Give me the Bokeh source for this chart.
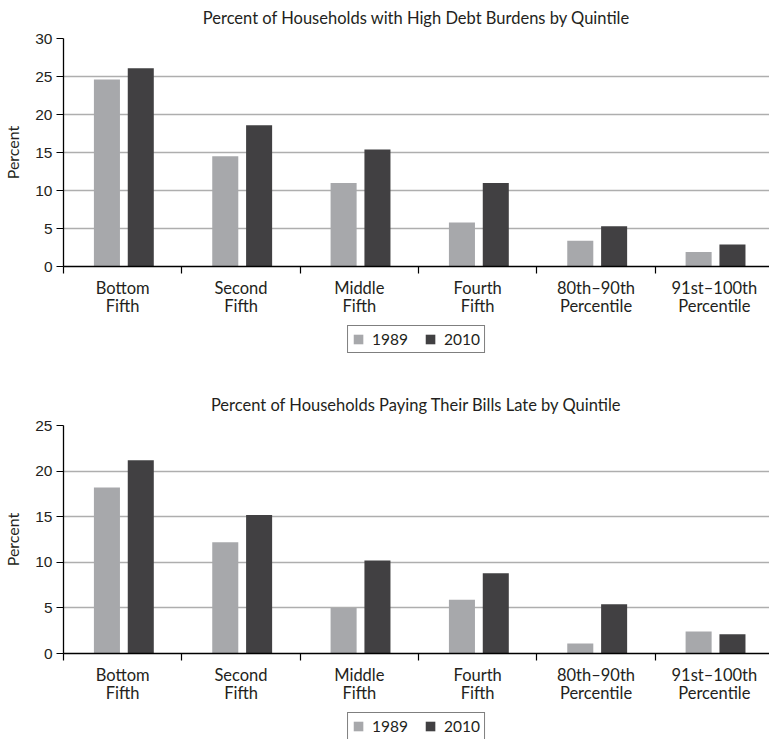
from bokeh.plotting import figure
from bokeh.models import (Range1d, FixedTicker, Legend, LegendItem, ColumnDataSource,
                          LinearAxis, Label)
from bokeh.layouts import column
from bokeh.embed import file_html
from bokeh.resources import INLINE

# Income groups (two-line tick labels)
categories = ["Bottom\nFifth", "Second\nFifth", "Middle\nFifth", "Fourth\nFifth",
              "80th–90th\nPercentile", "91st–100th\nPercentile"]
years = ["1989", "2010"]

# Percent of households with high debt burdens
debt_1989 = [24.6, 14.5, 11.0, 5.8, 3.4, 1.9]
debt_2010 = [26.1, 18.6, 15.4, 11.0, 5.3, 2.9]

# Percent of households paying their bills late
late_1989 = [18.2, 12.2, 5.0, 5.9, 1.1, 2.4]
late_2010 = [21.2, 15.2, 10.2, 8.8, 5.4, 2.1]

C_1989 = "#a7a8ab"
C_2010 = "#414042"
TEXT = "#231f20"
LABEL_FONT = "Lato"
NUM_FONT = "Liberation Sans"


def blank_strip(height):
    s = figure(width=769, height=height,
               min_border_left=62, min_border_right=0,
               min_border_top=0, min_border_bottom=0,
               x_range=Range1d(0, 1), y_range=Range1d(0, 1),
               output_backend="svg", toolbar_location=None,
               x_axis_type=None, y_axis_type=None)
    s.outline_line_color = None
    s.xgrid.visible = False
    s.ygrid.visible = False
    s.background_fill_color = "white"
    s.border_fill_color = "white"
    return s


def make_title_strip(text):
    s = blank_strip(28)
    s.add_layout(Label(x=0.5, y=11, x_units="data", y_units="screen", text=text,
                       text_align="center", text_baseline="middle",
                       text_font=LABEL_FONT, text_font_size="16.5px",
                       text_color=TEXT))
    return s


def make_panel(v89, v10, ymax):
    n = len(categories)
    p = figure(width=769, height=292,
               min_border_left=62, min_border_right=0,
               min_border_top=10, min_border_bottom=54,
               x_range=Range1d(0, 5.966), y_range=Range1d(0, ymax),
               output_backend="svg", toolbar_location=None,
               x_axis_type=None)
    p.outline_line_color = None
    p.background_fill_color = "white"
    p.border_fill_color = "white"

    centers = [i + 0.5 for i in range(n)]
    src = ColumnDataSource(dict(
        x89=[c - 0.133 for c in centers],
        x10=[c + 0.153 for c in centers],
        v89=v89, v10=v10,
    ))

    p.xgrid.visible = False
    p.ygrid.grid_line_color = "#aeaeae"
    p.ygrid.grid_line_width = 1.3
    p.ygrid.ticker = FixedTicker(ticks=list(range(0, ymax + 1, 5)))

    p.vbar(x="x89", top="v89", width=0.22, source=src,
           fill_color=C_1989, line_color=None)
    p.vbar(x="x10", top="v10", width=0.22, source=src,
           fill_color=C_2010, line_color=None)

    # y axis
    ya = p.yaxis[0]
    ya.ticker = FixedTicker(ticks=list(range(0, ymax + 1, 5)))
    ya.axis_label = "Percent"
    ya.axis_label_text_font = LABEL_FONT
    ya.axis_label_text_font_size = "16px"
    ya.axis_label_text_font_style = "normal"
    ya.axis_label_text_color = TEXT
    ya.axis_label_standoff = 10
    ya.major_label_text_font = NUM_FONT
    ya.major_label_text_font_size = "15.5px"
    ya.major_label_text_color = TEXT
    ya.major_label_standoff = 4
    ya.major_tick_in = 0
    ya.major_tick_out = 7
    ya.minor_tick_line_color = None
    ya.axis_line_color = "black"
    ya.axis_line_width = 1.3
    ya.major_tick_line_width = 1.2

    # x axis: labels at category centres, tick marks at category boundaries
    xa = LinearAxis(ticker=FixedTicker(ticks=centers, minor_ticks=list(range(n + 1))))
    xa.major_label_overrides = {c: lab for c, lab in zip(centers, categories)}
    xa.major_label_text_font = LABEL_FONT
    xa.major_label_text_font_size = "16.5px"
    xa.major_label_text_line_height = 0.9
    xa.major_label_text_color = TEXT
    xa.major_label_standoff = 4
    xa.major_tick_in = 0
    xa.major_tick_out = 0
    xa.minor_tick_in = 0
    xa.minor_tick_out = 7
    xa.minor_tick_line_color = "black"
    xa.minor_tick_line_width = 1.2
    xa.axis_line_color = "black"
    xa.axis_line_width = 1.3
    p.add_layout(xa, "below")
    return p


def make_legend_strip(height, top_gap):
    # the boxed year legend; its two swatch renderers sit outside the visible range
    s = blank_strip(height)
    hidden = ColumnDataSource(dict(x=[-10], top=[-10]))
    r89 = s.vbar(x="x", top="top", bottom=-11, width=0.1, source=hidden,
                 fill_color=C_1989, line_color=None)
    r10 = s.vbar(x="x", top="top", bottom=-11, width=0.1, source=hidden,
                 fill_color=C_2010, line_color=None)
    legend = Legend(items=[LegendItem(label=years[0], renderers=[r89]),
                           LegendItem(label=years[1], renderers=[r10])],
                    orientation="horizontal", location="top_center")
    legend.label_text_font = LABEL_FONT
    legend.label_text_font_size = "15.5px"
    legend.label_text_color = TEXT
    legend.label_height = 14
    legend.glyph_width = 12
    legend.glyph_height = 12
    legend.label_standoff = 8
    legend.spacing = 16
    legend.padding = 4
    legend.margin = top_gap
    legend.border_line_color = "black"
    legend.border_line_width = 1.2
    legend.background_fill_alpha = 1
    s.add_layout(legend, "center")
    return s


layout = column(
    make_title_strip("Percent of Households with High Debt Burdens by Quintile"),
    make_panel(debt_1989, debt_2010, 30),
    make_legend_strip(67, 5),
    make_title_strip("Percent of Households Paying Their Bills Late by Quintile"),
    make_panel(late_1989, late_2010, 25),
    make_legend_strip(32, 5),
    spacing=0,
)

with open("out.html", "w") as f:
    f.write(file_html(layout, INLINE))
